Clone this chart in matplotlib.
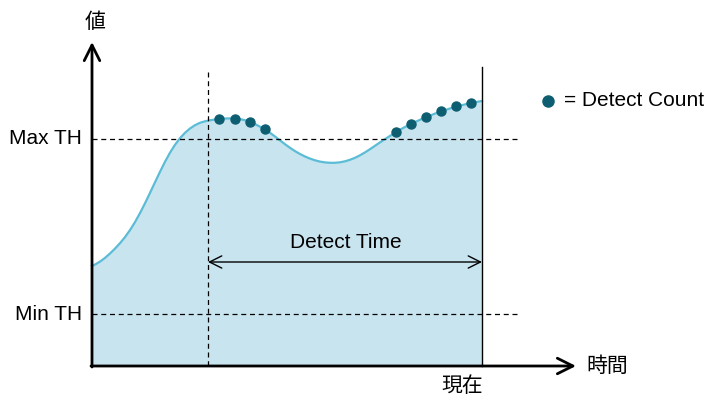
import numpy as np
import matplotlib.pyplot as plt

plt.rcParams['font.family'] = ['Liberation Sans', 'Noto Sans CJK JP']

# signal curve (x = time px, y = value px, screen coords)
curve_x = [92, 96, 100, 105, 110, 115, 120, 125, 130, 135, 140, 145, 150, 155, 160, 165, 170,
           175, 180, 185, 190, 195, 200, 205, 210, 215, 220, 225, 230, 235, 240, 245, 250, 255,
           260, 265, 270, 275, 280, 285, 290, 295, 300, 305, 310, 315, 320, 325, 330, 335, 340,
           345, 350, 355, 360, 365, 370, 375, 380, 385, 390, 395, 400, 405, 410, 415, 420, 425,
           430, 435, 440, 445, 450, 455, 460, 465, 470, 475, 482]
curve_y = [266.0, 264.0, 261.6, 257.9, 253.5, 248.6, 243.2, 237.1, 230.1, 222.1, 213.1, 203.3,
           192.9, 182.3, 171.8, 161.8, 152.7, 144.8, 138.2, 132.8, 128.5, 125.2, 122.8, 121.3,
           120.3, 119.5, 118.9, 118.5, 118.4, 118.6, 119.1, 120.2, 121.9, 124.1, 126.7, 129.5,
           132.8, 136.5, 140.4, 144.2, 147.8, 151.1, 154.0, 156.5, 158.6, 160.3, 161.6, 162.4,
           162.8, 162.8, 162.3, 161.3, 159.8, 157.8, 155.3, 152.4, 149.2, 145.8, 142.4, 139.1,
           135.9, 132.8, 129.7, 127.0, 124.5, 122.1, 119.8, 117.6, 115.6, 113.6, 111.8, 110.1,
           108.5, 107.0, 105.6, 104.4, 103.2, 102.2, 101.0]
# detect count dots
dot_x = [219, 234.5, 249.5, 265, 395.5, 410.5, 426, 441, 456, 471]
dot_y = [119.2, 118.6, 121.7, 129.3, 131.8, 124.0, 116.8, 111.0, 106.3, 103.0]

max_th = 139
min_th = 314
x0, y0 = 92, 366
detect_start, now = 208, 482

fig = plt.figure(figsize=(7.1, 3.98), dpi=100)
ax = fig.add_axes([0, 0, 1, 1])
ax.set_xlim(0, 710)
ax.set_ylim(398, 0)
ax.axis('off')

line_c = '#5bbcd6'
fill_c = '#c8e4ef'
dot_c = '#0e5e72'

ax.fill_between(curve_x, curve_y, y0, color=fill_c, lw=0)
ax.plot(curve_x, curve_y, color=line_c, lw=1.6, solid_joinstyle='round')

# thresholds
for yy in (max_th, min_th):
    ax.plot([x0, 517], [yy, yy], color='black', lw=0.9, ls=(0, (4, 3)))

ax.plot([detect_start, detect_start], [72, y0], color='black', lw=0.9, ls=(0, (4, 3)))
ax.plot([now, now], [67, y0], color='black', lw=1.0)

ax.plot(dot_x, dot_y, 'o', color=dot_c, ms=6.5, zorder=5)

# axes with arrows
arrow = dict(arrowstyle='->', color='black', lw=2, mutation_scale=28, shrinkA=0, shrinkB=0)
ax.annotate('', xy=(x0, 42), xytext=(x0, y0 + 1), arrowprops=arrow)
ax.annotate('', xy=(576, y0), xytext=(x0 - 1, y0), arrowprops=arrow)

# detect time
ax.annotate('', xy=(detect_start, 262), xytext=(now, 262),
            arrowprops=dict(arrowstyle='<->', color='black', lw=1.0, mutation_scale=22,
                            shrinkA=0, shrinkB=0))
ax.text(346, 242, 'Detect Time', ha='center', va='center', fontsize=15)

ax.text(82, max_th, 'Max TH', ha='right', va='center', fontsize=15)
ax.text(82, min_th, 'Min TH', ha='right', va='center', fontsize=15)
ax.text(95, 22, '値', ha='center', va='center', fontsize=15)
ax.text(586, 366, '時間', ha='left', va='center', fontsize=15)
ax.text(462, 386, '現在', ha='center', va='center', fontsize=15)

ax.plot([548], [101], 'o', color=dot_c, ms=8)
ax.text(564, 101, '= Detect Count', ha='left', va='center', fontsize=15)

fig.savefig('out.png', dpi=100)
